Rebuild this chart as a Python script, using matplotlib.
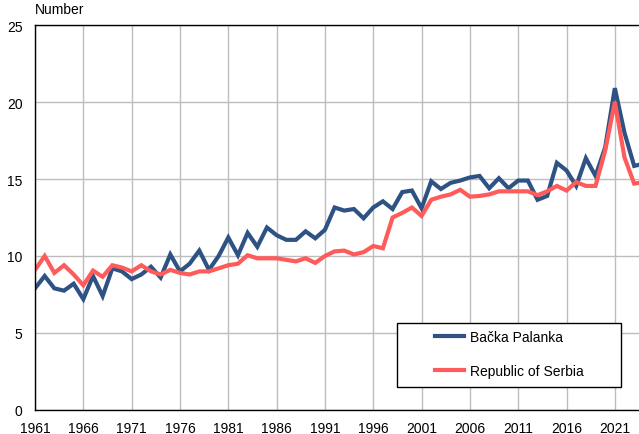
import numpy as np
import matplotlib
matplotlib.use("Agg")
import matplotlib.pyplot as plt
from matplotlib.patches import Rectangle

plt.rcParams['font.family'] = ['Liberation Sans', 'DejaVu Sans']

# Data
years = list(range(1961, 2025))
backa_palanka = [7.9, 8.7, 7.9, 7.75, 8.2, 7.2, 8.7, 7.4, 9.2, 9.0,
                 8.5, 8.8, 9.3, 8.6, 10.1, 9.0, 9.5, 10.35, 9.1, 10.0,
                 11.2, 10.05, 11.5, 10.6, 11.85, 11.35, 11.05, 11.05, 11.6, 11.15,
                 11.7, 13.15, 12.95, 13.05, 12.45, 13.15, 13.55, 13.05, 14.15, 14.25,
                 13.1, 14.85, 14.35, 14.75, 14.9, 15.1, 15.2, 14.4, 15.05, 14.4,
                 14.9, 14.9, 13.65, 13.9, 16.05, 15.55, 14.55, 16.35, 15.2, 17.05,
                 20.9, 18.0, 15.85, 16.0]
serbia = [9.1, 10.0, 8.9, 9.4, 8.8, 8.1, 9.05, 8.65, 9.4, 9.25,
          9.0, 9.4, 9.0, 8.8, 9.1, 8.9, 8.8, 9.0, 9.0, 9.2,
          9.4, 9.5, 10.05, 9.85, 9.85, 9.85, 9.75, 9.65, 9.85, 9.55,
          10.0, 10.3, 10.35, 10.1, 10.25, 10.65, 10.5, 12.5, 12.8, 13.15,
          12.6, 13.65, 13.85, 14.0, 14.3, 13.85, 13.9, 14.0, 14.2, 14.2,
          14.2, 14.2, 13.95, 14.2, 14.55, 14.25, 14.8, 14.55, 14.55, 16.85,
          20.0, 16.4, 14.7, 14.8]
labels = ["Bačka Palanka", "Republic of Serbia"]
xticks = list(range(1961, 2022, 5))

fig = plt.figure(figsize=(6.39, 4.35), dpi=100)
ax = fig.add_axes([0.0548, 0.0552, 0.9452, 0.8850])

ax.plot(years, backa_palanka, color="#2E5283", lw=3.0, label=labels[0], solid_joinstyle="miter")
ax.plot(years, serbia, color="#FF5B5B", lw=3.0, label=labels[1], solid_joinstyle="miter")

ax.set_xlim(1961, 2023.5)
ax.set_ylim(0, 25)
ax.set_xticks(xticks)
ax.set_yticks(range(0, 26, 5))
ax.grid(True, color="#BDBDBD", lw=1.0)
ax.set_axisbelow(True)
ax.tick_params(length=0, labelsize=10)
ax.tick_params(axis="x", pad=8)
ax.tick_params(axis="y", pad=9)
ax.spines["right"].set_visible(False)
for s in ["left", "bottom", "top"]:
    ax.spines[s].set_linewidth(1.0)
    ax.spines[s].set_color("black")

fig.text(0.055, 0.977, "Number", fontsize=10, va="center", ha="left")

# legend box drawn separately so the padding matches the reference
ax.add_patch(Rectangle((0.599, 0.0597), 0.371, 0.166, transform=ax.transAxes,
                       facecolor="white", edgecolor="black", lw=1.0, zorder=5))
leg = ax.legend(loc="center left", bbox_to_anchor=(0.662, 0.1455), frameon=False,
                fontsize=10, handlelength=2.1, labelspacing=1.45, borderaxespad=0,
                borderpad=0, handletextpad=0.4)
leg.set_zorder(6)

fig.savefig("out.png", dpi=100)
